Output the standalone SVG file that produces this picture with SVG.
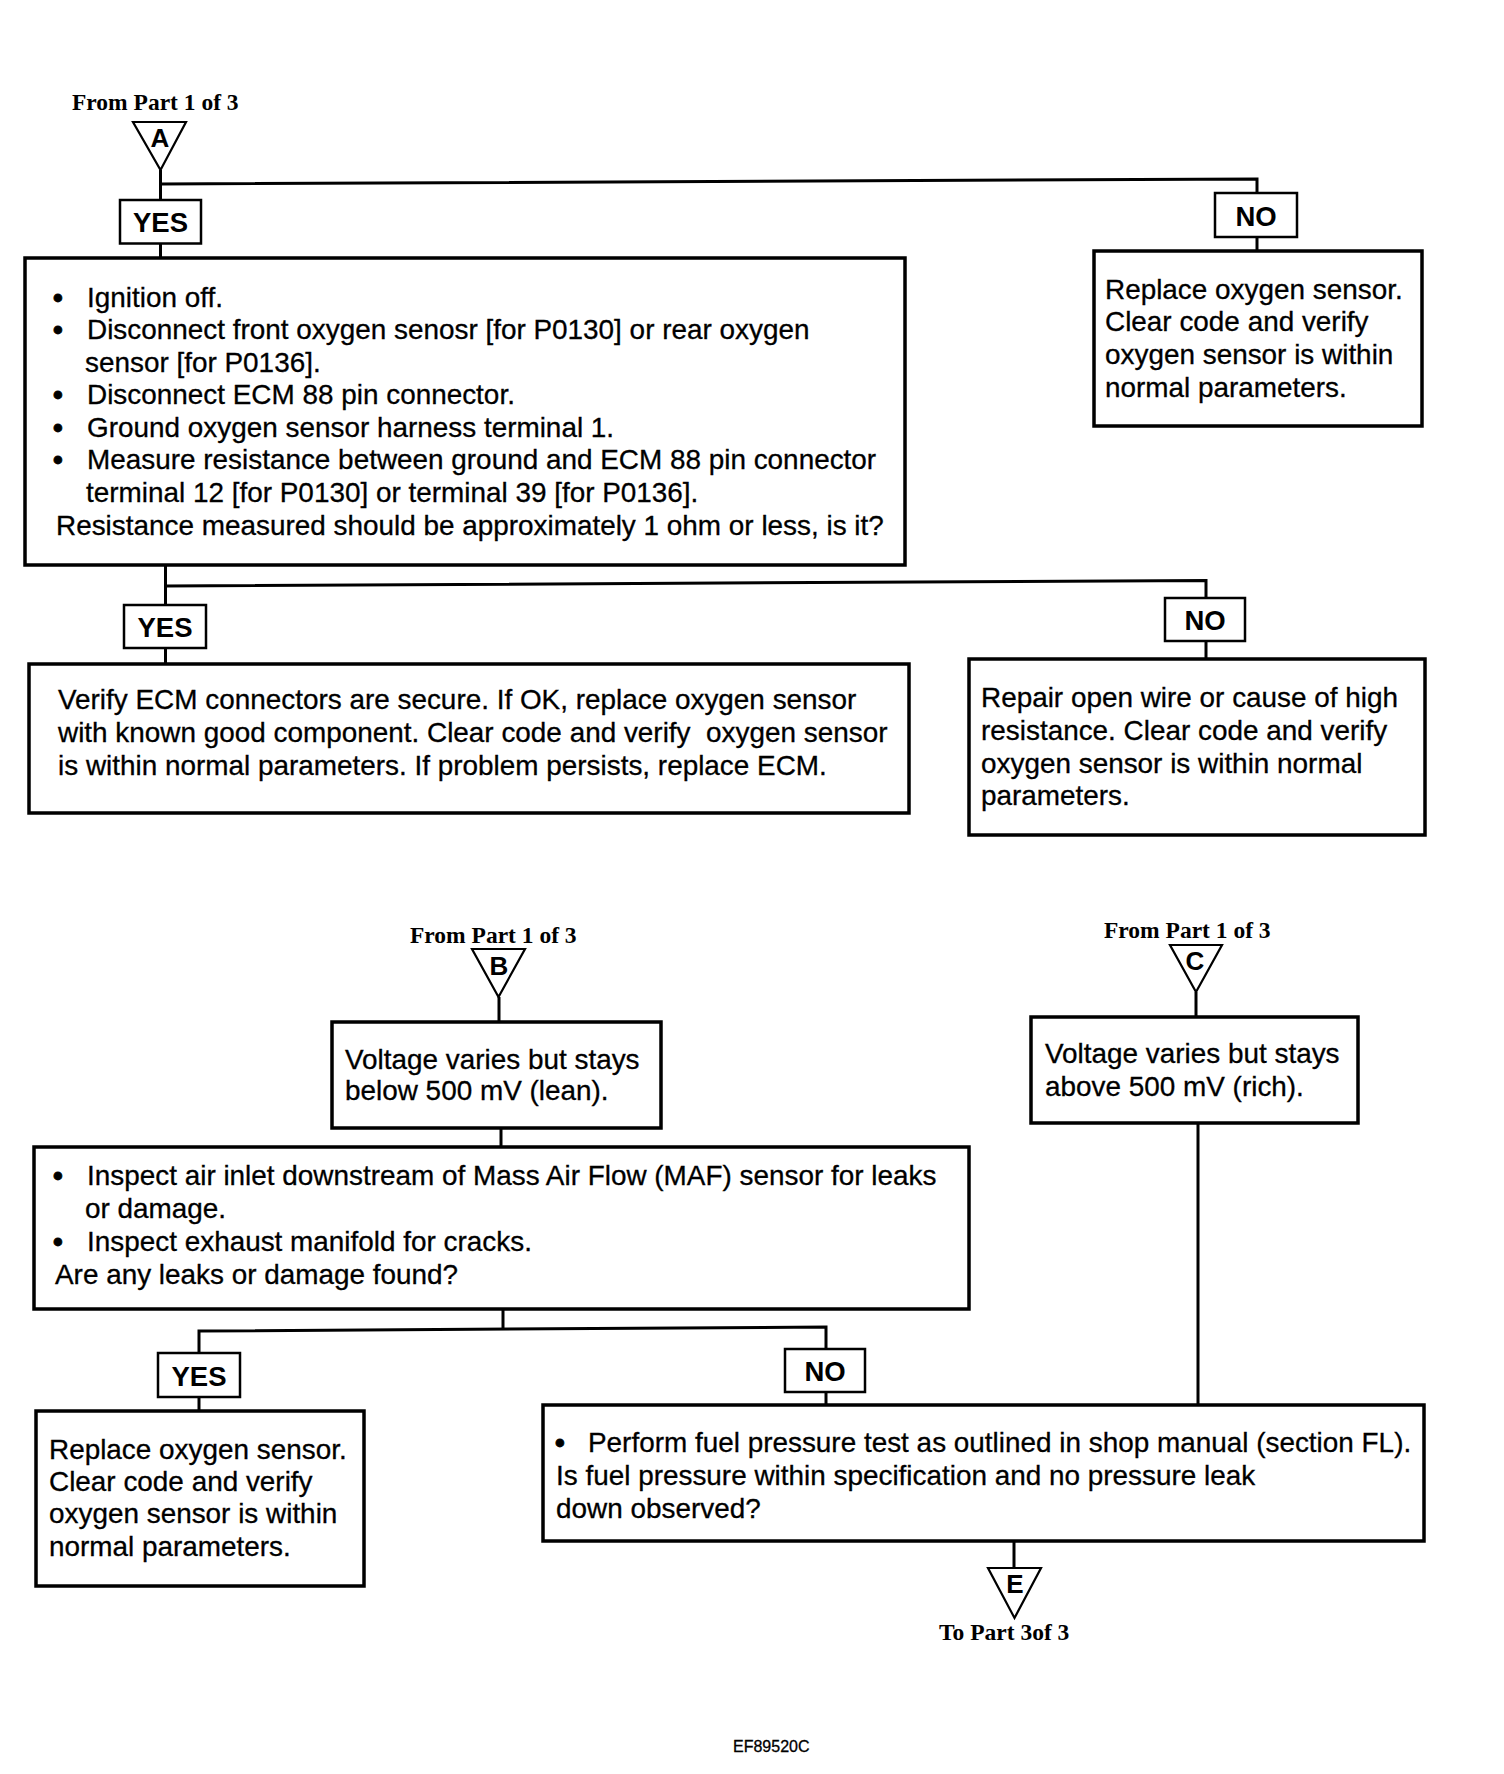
<svg xmlns="http://www.w3.org/2000/svg" width="1504" height="1774" viewBox="0 0 1504 1774">
<style>
.box{fill:#fff;stroke:#000;stroke-width:3.5}
.lbl{fill:#fff;stroke:#000;stroke-width:2.5}
.tri{fill:#fff;stroke:#000;stroke-width:2.2;stroke-linejoin:miter}
.conn{fill:none;stroke:#000;stroke-width:3}
.t{font-family:"Liberation Sans",Arial,Helvetica,sans-serif;font-size:27.9px;fill:#000;stroke:#000;stroke-width:0.3}
.bul{font-weight:bold;stroke-width:0.8}
.yn{font-family:"Liberation Sans",Arial,Helvetica,sans-serif;font-size:27.5px;font-weight:bold;fill:#000;text-anchor:middle}
.ref{font-family:"Liberation Serif","Times New Roman",serif;font-size:23.5px;font-weight:bold;fill:#000}
.tl{font-family:"Liberation Sans",Arial,Helvetica,sans-serif;font-size:26px;font-weight:bold;fill:#000;text-anchor:middle}
.code{font-family:"Liberation Sans",Arial,Helvetica,sans-serif;font-size:16px;fill:#000;stroke:#000;stroke-width:0.3}
</style>

<g id="connectors">
  <polyline class="conn" points="160.5,170 160.5,200"/>
  <polyline class="conn" points="160.5,184 1257,179 1257,193"/>
  <polyline class="conn" points="160.5,243.5 160.5,258"/>
  <polyline class="conn" points="1257,237 1257,251"/>
  <polyline class="conn" points="165.5,565 165.5,605"/>
  <polyline class="conn" points="165.5,586 1206,580.5 1206,598"/>
  <polyline class="conn" points="165.5,648 165.5,664"/>
  <polyline class="conn" points="1206,641 1206,659"/>
  <polyline class="conn" points="499,997 499,1022"/>
  <polyline class="conn" points="501,1128 501,1147"/>
  <polyline class="conn" points="1196,992 1196,1017"/>
  <polyline class="conn" points="1198,1123 1198,1405"/>
  <polyline class="conn" points="503,1309 503,1329"/>
  <polyline class="conn" points="199,1354 199,1331 826,1327 826,1349"/>
  <polyline class="conn" points="199,1397 199,1411"/>
  <polyline class="conn" points="826,1392 826,1405"/>
  <polyline class="conn" points="1014,1541 1014,1568"/>
</g>

<g id="refA">
  <text class="ref" x="72" y="110">From Part 1 of 3</text>
  <polygon class="tri" points="133,122 186,122 160.5,170"/>
  <text class="tl" x="160" y="147">A</text>
</g>

<g id="yes1">
  <rect class="lbl" x="120" y="200" width="81" height="43.5"/>
  <text class="yn" x="160.5" y="232">YES</text>
</g>

<g id="no1">
  <rect class="lbl" x="1215" y="193" width="82" height="44"/>
  <text class="yn" x="1256" y="226">NO</text>
</g>

<g id="box1">
  <rect class="box" x="25" y="258" width="880" height="307"/>
  <text class="t" y="307"><tspan class="bul" x="53">•</tspan><tspan x="87">Ignition off.</tspan></text>
  <text class="t" y="339"><tspan class="bul" x="53">•</tspan><tspan x="87">Disconnect front oxygen senosr [for P0130] or rear oxygen</tspan></text>
  <text class="t" x="85" y="372">sensor [for P0136].</text>
  <text class="t" y="404"><tspan class="bul" x="53">•</tspan><tspan x="87">Disconnect ECM 88 pin connector.</tspan></text>
  <text class="t" y="437"><tspan class="bul" x="53">•</tspan><tspan x="87">Ground oxygen sensor harness terminal 1.</tspan></text>
  <text class="t" y="469"><tspan class="bul" x="53">•</tspan><tspan x="87">Measure resistance between ground and ECM 88 pin connector</tspan></text>
  <text class="t" x="86" y="502">terminal 12 [for P0130] or terminal 39 [for P0136].</text>
  <text class="t" x="56" y="535">Resistance measured should be approximately 1 ohm or less, is it?</text>
</g>

<g id="no1result">
  <rect class="box" x="1094" y="251" width="328" height="175"/>
  <text class="t" x="1105" y="299">Replace oxygen sensor.</text>
  <text class="t" x="1105" y="331">Clear code and verify</text>
  <text class="t" x="1105" y="364">oxygen sensor is within</text>
  <text class="t" x="1105" y="397">normal parameters.</text>
</g>

<g id="yes2">
  <rect class="lbl" x="124" y="605" width="82" height="43"/>
  <text class="yn" x="165" y="637">YES</text>
</g>

<g id="no2">
  <rect class="lbl" x="1165" y="598" width="80" height="43"/>
  <text class="yn" x="1205" y="630">NO</text>
</g>

<g id="box2">
  <rect class="box" x="29" y="664" width="880" height="149"/>
  <text class="t" x="58" y="709">Verify ECM connectors are secure. If OK, replace oxygen sensor</text>
  <text class="t" x="58" y="742" xml:space="preserve">with known good component. Clear code and verify  oxygen sensor</text>
  <text class="t" x="58" y="775">is within normal parameters. If problem persists, replace ECM.</text>
</g>

<g id="no2result">
  <rect class="box" x="969" y="659" width="456" height="176"/>
  <text class="t" x="981" y="707">Repair open wire or cause of high</text>
  <text class="t" x="981" y="740">resistance. Clear code and verify</text>
  <text class="t" x="981" y="773">oxygen sensor is within normal</text>
  <text class="t" x="981" y="805">parameters.</text>
</g>

<g id="refB">
  <text class="ref" x="410" y="943">From Part 1 of 3</text>
  <polygon class="tri" points="472,949 525,949 498.5,997"/>
  <text class="tl" x="499" y="975">B</text>
</g>

<g id="boxB">
  <rect class="box" x="332" y="1022" width="329" height="106"/>
  <text class="t" x="345" y="1069">Voltage varies but stays</text>
  <text class="t" x="345" y="1100">below 500 mV (lean).</text>
</g>

<g id="refC">
  <text class="ref" x="1104" y="938">From Part 1 of 3</text>
  <polygon class="tri" points="1170,945 1222,945 1196,992"/>
  <text class="tl" x="1195" y="970">C</text>
</g>

<g id="boxC">
  <rect class="box" x="1031" y="1017" width="327" height="106"/>
  <text class="t" x="1045" y="1063">Voltage varies but stays</text>
  <text class="t" x="1045" y="1096">above 500 mV (rich).</text>
</g>

<g id="inspect">
  <rect class="box" x="34" y="1147" width="935" height="162"/>
  <text class="t" y="1185"><tspan class="bul" x="53">•</tspan><tspan x="87">Inspect air inlet downstream of Mass Air Flow (MAF) sensor for leaks</tspan></text>
  <text class="t" x="85" y="1218">or damage.</text>
  <text class="t" y="1251"><tspan class="bul" x="53">•</tspan><tspan x="87">Inspect exhaust manifold for cracks.</tspan></text>
  <text class="t" x="55" y="1284">Are any leaks or damage found?</text>
</g>

<g id="yes3">
  <rect class="lbl" x="158" y="1353" width="82" height="44"/>
  <text class="yn" x="199" y="1386">YES</text>
</g>

<g id="no3">
  <rect class="lbl" x="785" y="1349" width="80" height="43"/>
  <text class="yn" x="825" y="1381">NO</text>
</g>

<g id="yes3result">
  <rect class="box" x="36" y="1411" width="328" height="175"/>
  <text class="t" x="49" y="1459">Replace oxygen sensor.</text>
  <text class="t" x="49" y="1491">Clear code and verify</text>
  <text class="t" x="49" y="1523">oxygen sensor is within</text>
  <text class="t" x="49" y="1556">normal parameters.</text>
</g>

<g id="fuel">
  <rect class="box" x="543" y="1405" width="881" height="136"/>
  <text class="t" y="1452"><tspan class="bul" x="555">•</tspan><tspan x="588">Perform fuel pressure test as outlined in shop manual (section FL).</tspan></text>
  <text class="t" x="556" y="1485">Is fuel pressure within specification and no pressure leak</text>
  <text class="t" x="556" y="1518">down observed?</text>
</g>

<g id="refE">
  <polygon class="tri" points="988,1568 1041,1568 1014.5,1618"/>
  <text class="tl" x="1015" y="1593">E</text>
  <text class="ref" x="939" y="1640">To Part 3of 3</text>
</g>

<g id="figcode">
  <text class="code" x="733" y="1752">EF89520C</text>
</g>
</svg>
